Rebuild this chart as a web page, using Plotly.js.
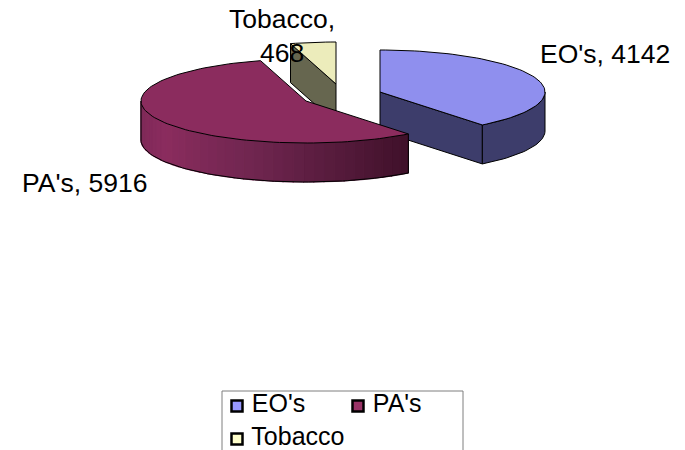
<!DOCTYPE html>
<html><head><meta charset="utf-8">
<script src="https://cdn.plot.ly/plotly-3.0.1.min.js"></script>
<style>html,body{margin:0;padding:0;background:#fff;overflow:hidden}</style>
</head><body><div id="chart" style="width:685px;height:450px"></div>
<script>
const categories = ["EO's", "PA's", "Tobacco"];
const values = [4142, 5916, 468];
const topColors = ['#8F8FEE', '#8B2C5E', '#ECECBB'];
const wallColors = ['#3D3D6B', '#8B2C5E', '#66664F'];
const legendColors = ['#9999FF', '#993366', '#FFFFCC'];
const centers = [[380, 92], [306, 101], [336, 84]];
const RX = 165, RY = 42, DEPTH = 39;

const total = values.reduce((a, b) => a + b, 0);
const starts = []; let acc = 0;
values.forEach(v => { starts.push(acc / total * 360); acc += v; });
const ends = starts.map((s, i) => s + values[i] / total * 360);

const pt = (c, deg, dz = 0) => {
  const r = deg * Math.PI / 180;
  return [c[0] + RX * Math.sin(r), c[1] - RY * Math.cos(r) + dz];
};
const arc = (c, a, b, dz = 0, step = 2) => {
  const out = []; const n = Math.max(1, Math.ceil(Math.abs(b - a) / step));
  for (let i = 0; i <= n; i++) out.push(pt(c, a + (b - a) * i / n, dz));
  return out;
};
const traces = [];
const poly = (pts, fill, line) => traces.push({
  type: 'scatter', mode: 'lines', x: pts.map(p => p[0]), y: pts.map(p => p[1]),
  fill: 'toself', fillcolor: fill, showlegend: false, hoverinfo: 'skip',
  line: line ? {color: '#000', width: 1} : {color: fill, width: 1.2}
});
const outline = pts => traces.push({
  type: 'scatter', mode: 'lines', x: pts.map(p => p[0]), y: pts.map(p => p[1]),
  showlegend: false, hoverinfo: 'skip', line: {color: '#000', width: 1}
});

// Tobacco
(function () {
  const i = 2, c = centers[i], s = starts[i], e = ends[i];
  const face = [pt(c, s), c, [c[0], c[1] + DEPTH], pt(c, s, DEPTH), pt(c, s)];
  poly(face, wallColors[i], true);
  poly([c].concat(arc(c, s, e)).concat([c]), topColors[i], true);
})();

// EO's
(function () {
  const i = 0, c = centers[i], s = starts[i], e = ends[i];
  const ep = pt(c, e);
  poly([c, ep, pt(c, e, DEPTH), [c[0], c[1] + DEPTH], c], wallColors[i], true);
  const outer = arc(c, 90, e);
  const outerLow = arc(c, e, 90, DEPTH);
  poly(outer.concat(outerLow).concat([outer[0]]), wallColors[i], true);
  poly([c].concat(arc(c, s, e)).concat([c]), topColors[i], true);
})();

// PA's
(function () {
  const i = 1, c = centers[i], s = starts[i], e = ends[i];
  const stops = [[0, [62, 16, 41]], [0.45, [112, 38, 80]], [0.75, [139, 44, 94]], [1, [122, 40, 86]]];
  const shade = t => {
    let k = 0; while (k < stops.length - 2 && t > stops[k + 1][0]) k++;
    const a = stops[k], b = stops[k + 1], f = (t - a[0]) / (b[0] - a[0]);
    const m = a[1].map((v, j) => Math.round(v + (b[1][j] - v) * f));
    return `rgb(${m[0]},${m[1]},${m[2]})`;
  };
  const n = 36;
  for (let k = 0; k < n; k++) {
    const a = s + (270 - s) * k / n, b = s + (270 - s) * (k + 1) / n;
    poly([pt(c, a), pt(c, b), pt(c, b, DEPTH), pt(c, a, DEPTH), pt(c, a)], shade((k + 0.5) / n), false);
  }
  outline([pt(c, s), pt(c, s, DEPTH)].concat(arc(c, s, 270, DEPTH)).concat([pt(c, 270)]));
  poly([c].concat(arc(c, s, e)).concat([c]), topColors[i], true);
})();

// Legend swatches and text
const legendX = [237, 358, 237], legendY = [406, 406, 439];
traces.push({
  type: 'scatter', mode: 'markers+text', x: legendX, y: legendY,
  text: categories.map(t => ' ' + t), textposition: 'middle right',
  textfont: {family: 'Liberation Sans, Arial, sans-serif', size: 25, color: '#000'},
  marker: {symbol: 'square', size: 11, color: legendColors, line: {color: '#000', width: 2.5}},
  showlegend: false, hoverinfo: 'skip', cliponaxis: false
});

const label = (i, x, y, txt) => ({
  x, y, xref: 'x', yref: 'y', text: txt, showarrow: false, align: 'center',
  font: {family: 'Liberation Sans, Arial, sans-serif', size: 26.5, color: '#000'}
});
const annotations = [
  label(0, 604.5, 54, categories[0] + ', ' + values[0]),
  label(1, 84.5, 183, categories[1] + ', ' + values[1]),
  label(2, 282, 36, categories[2] + ',<br>' + values[2])
];

Plotly.newPlot('chart', traces, {
  width: 685, height: 450, margin: {l: 0, r: 0, t: 0, b: 0},
  paper_bgcolor: '#fff', plot_bgcolor: '#fff', showlegend: false,
  xaxis: {range: [0, 685], visible: false, fixedrange: true},
  yaxis: {range: [450, 0], visible: false, fixedrange: true},
  annotations,
  shapes: [{type: 'rect', layer: 'below', xref: 'x', yref: 'y', x0: 222, x1: 463, y0: 391, y1: 470,
            line: {color: '#7f7f7f', width: 1}, fillcolor: 'rgba(0,0,0,0)'}]
}, {displayModeBar: false, staticPlot: true});
</script></body></html>
